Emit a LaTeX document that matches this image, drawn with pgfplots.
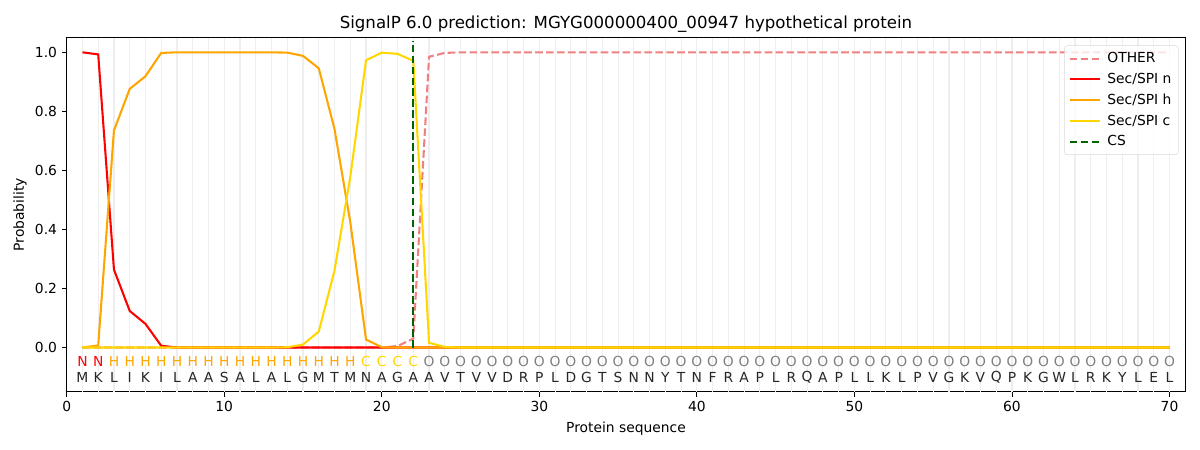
\documentclass[border=0pt]{standalone}
\usepackage{pgfplots}
\pgfplotsset{compat=1.18}
\usepackage{pgfplotstable}
\usepackage{fontspec}
\setmainfont{DejaVu Sans}
\definecolor{lcoral}{HTML}{F08080}
\definecolor{morange}{HTML}{FFA500}
\definecolor{mgold}{HTML}{FFD700}
\definecolor{dgreen}{HTML}{006400}
\definecolor{gridc}{HTML}{EEEEEE}

% x OTHER n h c
\pgfplotstableread{
x other n h c
1 0 1.0 0 0
2 0 0.993 0.007 0
3 0 0.264 0.735 0
4 0 0.124 0.876 0
5 0 0.080 0.919 0
6 0 0.006 0.998 0
7 0 0 1.0 0
8 0 0 1.0 0
9 0 0 1.0 0
10 0 0 1.0 0
11 0 0 1.0 0
12 0 0 1.0 0
13 0 0 1.0 0
14 0 0 0.999 0.001
15 0 0 0.988 0.010
16 0 0 0.946 0.054
17 0 0 0.740 0.261
18 0 0 0.425 0.578
19 0 0 0.027 0.973
20 0 0 0.001 0.999
21 0.005 0 0 0.995
22 0.030 0 0 0.971
23 0.985 0 0 0.016
24 0.998 0 0 0.002
25 1 0 0 0
26 1 0 0 0
27 1 0 0 0
28 1 0 0 0
29 1 0 0 0
30 1 0 0 0
31 1 0 0 0
32 1 0 0 0
33 1 0 0 0
34 1 0 0 0
35 1 0 0 0
36 1 0 0 0
37 1 0 0 0
38 1 0 0 0
39 1 0 0 0
40 1 0 0 0
41 1 0 0 0
42 1 0 0 0
43 1 0 0 0
44 1 0 0 0
45 1 0 0 0
46 1 0 0 0
47 1 0 0 0
48 1 0 0 0
49 1 0 0 0
50 1 0 0 0
51 1 0 0 0
52 1 0 0 0
53 1 0 0 0
54 1 0 0 0
55 1 0 0 0
56 1 0 0 0
57 1 0 0 0
58 1 0 0 0
59 1 0 0 0
60 1 0 0 0
61 1 0 0 0
62 1 0 0 0
63 1 0 0 0
64 1 0 0 0
65 1 0 0 0
66 1 0 0 0
67 1 0 0 0
68 1 0 0 0
69 1 0 0 0
70 1 0 0 0
}\probs

\begin{document}
\begin{tikzpicture}
\path[use as bounding box] (-48.2pt,-42.06pt) rectangle (819.04pt,283.15pt);
\begin{axis}[
  at={(0,0)}, anchor=south west,
  scale only axis, width=808.4pt, height=256.0pt,
  xmin=0, xmax=71, ymin=-0.15, ymax=1.05,
  xtick={0,10,...,70}, ytick={0,0.2,...,1.0},
  yticklabel style={/pgf/number format/.cd, fixed, fixed zerofill, precision=1},
  /pgf/number format/assume math mode=true,
  tick align=outside, major tick length=3.5pt,
  xtick pos=bottom, ytick pos=left,
  tick style={black, line width=0.6pt},
  axis line style={line width=0.8pt},
  ticklabel style={font=\fontsize{10}{12}\selectfont},
  title={SignalP 6.0 prediction: MGYG000000400\_00947 hypothetical protein},
  title style={font=\fontsize{12}{14}\selectfont, yshift=-6pt},
  xlabel={Protein sequence}, ylabel={Probability},
  label style={font=\fontsize{10}{12}\selectfont},
  xlabel style={yshift=-0.5pt}, ylabel style={yshift=-1pt},
  legend style={at={(0.994,0.978)}, anchor=north east, font=\fontsize{10}{12}\selectfont,
    draw=black!15, rounded corners=2pt, fill=white, fill opacity=0.8, text opacity=1,
    row sep=2.0pt, inner xsep=3pt, inner ysep=3pt},
  legend cell align=left,
  legend image code/.code={\draw[#1] (0cm,0cm) -- (0.76cm,0cm); \path (0.86cm,0cm);},
  clip=false,
]
% vertical grid
\pgfplotsinvokeforeach{1,...,70}{
  \draw[gridc, line width=0.8pt] (axis cs:#1,-0.15) -- (axis cs:#1,1.05);
}
% amino acid sequence
\addplot[forget plot, draw=none, nodes near coords, point meta=explicit symbolic,
  nodes near coords style={anchor=center, black!85, font=\fontsize{10}{12}\selectfont}]
  table[meta=l] {
x y l
1 -0.1 M
2 -0.1 K
3 -0.1 L
4 -0.1 I
5 -0.1 K
6 -0.1 I
7 -0.1 L
8 -0.1 A
9 -0.1 A
10 -0.1 S
11 -0.1 A
12 -0.1 L
13 -0.1 A
14 -0.1 L
15 -0.1 G
16 -0.1 M
17 -0.1 T
18 -0.1 M
19 -0.1 N
20 -0.1 A
21 -0.1 G
22 -0.1 A
23 -0.1 A
24 -0.1 V
25 -0.1 T
26 -0.1 V
27 -0.1 V
28 -0.1 D
29 -0.1 R
30 -0.1 P
31 -0.1 L
32 -0.1 D
33 -0.1 G
34 -0.1 T
35 -0.1 S
36 -0.1 N
37 -0.1 N
38 -0.1 Y
39 -0.1 T
40 -0.1 N
41 -0.1 F
42 -0.1 R
43 -0.1 A
44 -0.1 P
45 -0.1 L
46 -0.1 R
47 -0.1 Q
48 -0.1 A
49 -0.1 P
50 -0.1 L
51 -0.1 L
52 -0.1 K
53 -0.1 L
54 -0.1 P
55 -0.1 V
56 -0.1 G
57 -0.1 K
58 -0.1 V
59 -0.1 Q
60 -0.1 P
61 -0.1 K
62 -0.1 G
63 -0.1 W
64 -0.1 L
65 -0.1 R
66 -0.1 K
67 -0.1 Y
68 -0.1 L
69 -0.1 E
70 -0.1 L
};
\addplot[lcoral, dashed, line width=1.5pt, dash pattern=on 5.5pt off 2.4pt] table[x=x,y=other] {\probs};
\addlegendentry{OTHER}
\addplot[red, line width=1.5pt] table[x=x,y=n] {\probs};
\addlegendentry{Sec/SPI n}
\addplot[morange, line width=1.5pt] table[x=x,y=h] {\probs};
\addlegendentry{Sec/SPI h}
\addplot[mgold, line width=1.5pt] table[x=x,y=c] {\probs};
\addlegendentry{Sec/SPI c}
\addplot[dgreen, line width=1.5pt, dash pattern=on 5.5pt off 2.4pt] coordinates {(22,0) (22,1.04)};
\addlegendentry{CS}

% predicted labels
\addplot[forget plot, draw=none, nodes near coords, point meta=explicit symbolic,
  nodes near coords style={anchor=center, red, font=\fontsize{10}{12}\selectfont}]
  table[meta=l] {
x y l
1 -0.046 N
2 -0.046 N
};
\addplot[forget plot, draw=none, nodes near coords, point meta=explicit symbolic,
  nodes near coords style={anchor=center, morange, font=\fontsize{10}{12}\selectfont}]
  table[meta=l] {
x y l
3 -0.046 H
4 -0.046 H
5 -0.046 H
6 -0.046 H
7 -0.046 H
8 -0.046 H
9 -0.046 H
10 -0.046 H
11 -0.046 H
12 -0.046 H
13 -0.046 H
14 -0.046 H
15 -0.046 H
16 -0.046 H
17 -0.046 H
18 -0.046 H
};
\addplot[forget plot, draw=none, nodes near coords, point meta=explicit symbolic,
  nodes near coords style={anchor=center, mgold, font=\fontsize{10}{12}\selectfont}]
  table[meta=l] {
x y l
19 -0.046 C
20 -0.046 C
21 -0.046 C
22 -0.046 C
};
\addplot[forget plot, draw=none, nodes near coords, point meta=explicit symbolic,
  nodes near coords style={anchor=center, gray, font=\fontsize{10}{12}\selectfont}]
  table[meta=l] {
x y l
23 -0.046 O
24 -0.046 O
25 -0.046 O
26 -0.046 O
27 -0.046 O
28 -0.046 O
29 -0.046 O
30 -0.046 O
31 -0.046 O
32 -0.046 O
33 -0.046 O
34 -0.046 O
35 -0.046 O
36 -0.046 O
37 -0.046 O
38 -0.046 O
39 -0.046 O
40 -0.046 O
41 -0.046 O
42 -0.046 O
43 -0.046 O
44 -0.046 O
45 -0.046 O
46 -0.046 O
47 -0.046 O
48 -0.046 O
49 -0.046 O
50 -0.046 O
51 -0.046 O
52 -0.046 O
53 -0.046 O
54 -0.046 O
55 -0.046 O
56 -0.046 O
57 -0.046 O
58 -0.046 O
59 -0.046 O
60 -0.046 O
61 -0.046 O
62 -0.046 O
63 -0.046 O
64 -0.046 O
65 -0.046 O
66 -0.046 O
67 -0.046 O
68 -0.046 O
69 -0.046 O
70 -0.046 O
};
\end{axis}
\end{tikzpicture}
\end{document}
